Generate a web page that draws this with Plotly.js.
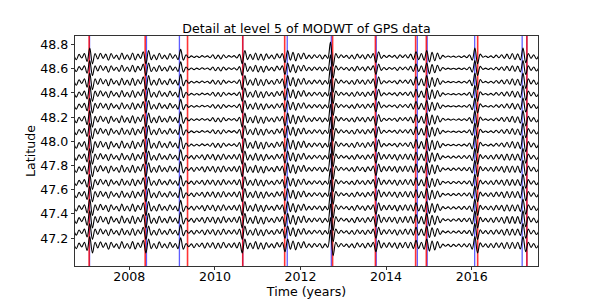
<!DOCTYPE html>
<html>
<head>
<meta charset="utf-8">
<script src="https://cdn.plot.ly/plotly-3.0.1.min.js"></script>
<style>html,body{margin:0;padding:0;background:#fff;}#chart{width:598px;height:299px;}</style>
</head>
<body>
<div id="chart"></div>
<script>
// Sampling of the detail signal (years)
const tStart = 2006.70;
const tStep = 0.0625;

// Station latitudes (one wiggly line each)
const latitudes = [48.70, 48.60, 48.49, 48.39, 48.29, 48.18, 48.08, 47.97,
                   47.87, 47.77, 47.66, 47.56, 47.45, 47.35, 47.25, 47.14];
// Which waveform each line follows (0 = north, 1 = south) and its relative gain
const waveGroup = [0,0,0,0,0,0,0,0,1,1,1,1,1,1,1,1];
const gain = [1.0, 0.95, 1.05, 1.0, 0.95, 1.05, 1.0, 1.1, 1.0, 1.05, 0.95, 1.0, 1.05, 1.1, 1.0, 1.05];

// Detail values (hundredths of a degree)
const detailNorth = [
  1.5, -2.5, 1.8, -1.2, 2.5, -4, 7, -6, 2.5, -2,
  2.8, -1.5, 2, -3, 2.5, -1.5, 1.2, -2.5, 3, -2.2,
  1.5, -2.5, 3, -2.8, 2, -1.5, 4, -6, 5, -2.5,
  1.5, -2.5, 2.8, -1.8, 1.2, -2.2, 2.5, -1.5, 1.5, -2.5,
  6, -3, 1.5, -1, 0.6, -0.8, 0.5, -0.7, 0.8, -0.5,
  0.6, -1, 1.5, -1.8, 1.2, -2, 1.5, -1, 0.8, -0.6,
  0.8, -1.2, 1.8, -6, 5, -2.5, 1.8, -2.5, 3, -2.8,
  2, -3, 2.2, -1.5, 1.2, -2, 2.2, -1.2, 2.5, -5,
  5, -3, 3.5, -3.5, 2.5, -2, 3, -1.8, 1.2, -1.5,
  1.5, -1, 1.5, -2, 1.2, -1.5, 12, -8, 2.5, -1.2,
  1.5, -0.8, 1, -1.5, 1.2, -2, 2, -1.2, 1.5, -2,
  1.8, -1.2, 2.5, -5, 4, -1.5, 1, -0.8, 1, -0.6,
  1, -1.5, 1.5, -0.8, 1.5, -1.2, 2, -2.5, 4, -2.5,
  2.5, -3, 5, -4.5, 3.5, -3.5, 3, -2, 1, -0.6,
  0.5, -0.5, 0.4, -0.6, 0.5, -0.7, 0.6, -0.9, 1.5, -3,
  7, -6, 2, -0.6, 0.5, -0.7, 0.6, -0.9, 1.2, -1,
  1.5, -1.5, 2, -1.8, 2.5, -2.5, 2.2, -2.8, 7, -5,
  2.5, -1.5, 1.5, -2, 1.5
];
const detailSouth = [
  1.5, -2.5, 1.8, -1.2, 2.5, -4, 7, -6, 2.5, -2,
  2.8, -1.5, 2, -3, 2.5, -1.5, 1.2, -2.5, 3, -2.2,
  1.5, -2.5, 3, -2.8, 2, -1.5, 4, -6, 5, -2.5,
  1.5, -2.5, 2.8, -1.8, 1.2, -2.2, 2.5, -1.5, 1.5, -2.5,
  6, -3, 1.5, -1, 1.2, -1.8, 1.5, -1, 1.8, -2.2,
  2, -1.5, 2.2, -2.5, 1.8, -2.2, 2.5, -1.8, 1.5, -1.5,
  2, -2, 2.5, -6, 5, -2.5, 1.8, -2.5, 3, -2.8,
  2, -3, 2.2, -1.5, 1.2, -2, 2.2, -1.2, 2.5, -5,
  5, -3, 3.5, -3.5, 2.5, -2, 3, -1.8, 1.2, -1.5,
  1.5, -1, 1.5, -2, 1.2, -1.5, 12, -8, 2.5, -1.2,
  1.5, -0.8, 1, -1.5, 1.2, -2, 2, -1.2, 1.5, -2,
  1.8, -1.2, 2.5, -5, 4, -2, 2, -1.5, 2.2, -1.5,
  2, -2.5, 2, -1.8, 2.5, -2, 2.5, -2.5, 4, -2.5,
  2.5, -3, 5, -4.5, 3.5, -3.5, 3, -2, 1, -0.6,
  0.8, -1, 0.8, -0.8, 1, -1.2, 1.2, -1.2, 1.5, -3,
  7, -6, 2, -1.2, 1.2, -1.5, 1.5, -1.8, 2, -1.5,
  2, -2.5, 2.5, -2.5, 2.5, -2.5, 2.5, -2.8, 7, -5,
  2.5, -1.5, 1.5, -2, 1.5
];

// Event markers (years)
const redEvents = [2007.06, 2008.37, 2009.36, 2010.65, 2011.63, 2012.75, 2013.75, 2014.69, 2014.94, 2016.14, 2017.29];
const blueEvents = [2007.07, 2008.40, 2009.17, 2010.65, 2011.69, 2012.72, 2013.77, 2014.73, 2014.96, 2016.07, 2017.18, 2017.29];

// X / Y axis settings
const xTicks = [2008, 2010, 2012, 2014, 2016];
const yTicks = [47.2, 47.4, 47.6, 47.8, 48.0, 48.2, 48.4, 48.6, 48.8];
const xRange = [2006.73, 2017.55];
const yRange = [46.97, 48.87];

const waves = [detailNorth, detailSouth];
const traces = latitudes.map((lat, k) => {
  const w = waves[waveGroup[k]];
  const x = w.map((_, i) => tStart + i * tStep);
  const y = w.map(v => lat + gain[k] * v / 100);
  return {x, y, type: 'scatter', mode: 'lines',
          line: {color: '#000', width: 1.1, shape: 'spline', smoothing: 1},
          hoverinfo: 'skip', showlegend: false};
});

const shapes = [];
blueEvents.forEach(t => shapes.push({type: 'line', xref: 'x', yref: 'paper', x0: t, x1: t, y0: 0, y1: 1,
  layer: 'below', line: {color: 'rgba(40,40,255,0.75)', width: 1.3}}));
redEvents.forEach(t => shapes.push({type: 'line', xref: 'x', yref: 'paper', x0: t, x1: t, y0: 0, y1: 1,
  layer: 'below', line: {color: 'rgba(255,0,0,0.8)', width: 1.6}}));

const font = {family: 'DejaVu Sans, sans-serif', size: 12.6, color: '#000'};
const layout = {
  width: 598, height: 299,
  margin: {l: 74.75, r: 59.8, t: 35.9, b: 32.9, pad: 0},
  paper_bgcolor: '#fff', plot_bgcolor: '#fff',
  font: font,
  title: {text: 'Detail at level 5 of MODWT of GPS data', font: font, x: 0.5125, xanchor: 'center', y: 0.905, yanchor: 'middle'},
  xaxis: {range: xRange, tickvals: xTicks, ticktext: xTicks.map(String), ticks: 'outside', ticklen: 3.5,
          tickcolor: '#000', tickwidth: 0.8, showline: true, linecolor: '#000', linewidth: 0.8, mirror: true,
          showgrid: false, zeroline: false, tickfont: font, ticklabelstandoff: -4,
          title: {text: 'Time (years)', font: font, standoff: 0}},
  yaxis: {range: yRange, tickvals: yTicks, ticktext: yTicks.map(v => v.toFixed(1)), ticks: 'outside', ticklen: 3.5,
          tickcolor: '#000', tickwidth: 0.8, showline: true, linecolor: '#000', linewidth: 0.8, mirror: true,
          showgrid: false, zeroline: false, tickfont: font,
          title: {text: 'Latitude', font: font, standoff: 1}},
  shapes: shapes,
  showlegend: false
};
Plotly.newPlot('chart', traces, layout, {staticPlot: true, displayModeBar: false});
</script>
</body>
</html>
